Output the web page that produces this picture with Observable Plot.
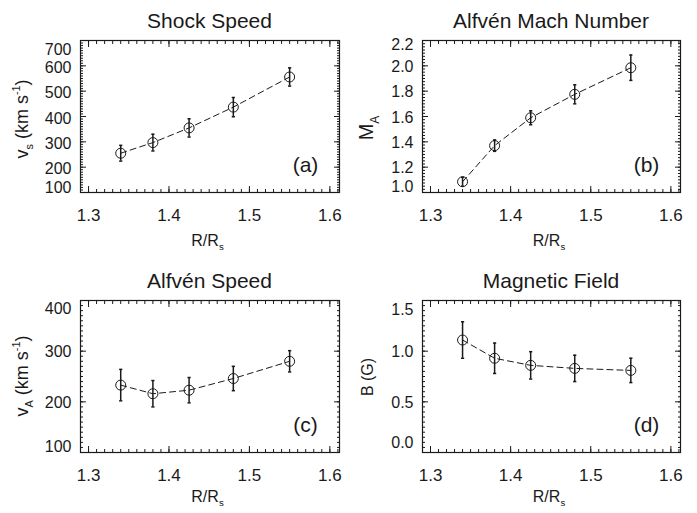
<!DOCTYPE html>
<html><head><meta charset="utf-8">
<script src="https://cdn.jsdelivr.net/npm/d3@7"></script>
<script src="https://cdn.jsdelivr.net/npm/@observablehq/plot@0.6"></script>
<style>
body{margin:0;background:#fff;}
#chart{position:relative;width:697px;height:513px;background:#fff;}
.panel{position:absolute;}
</style></head><body><div id="chart"></div>
<script>
// ---- data ----
const radius = [1.34, 1.38, 1.425, 1.48, 1.55];          // R/Rs
const shockSpeed = [255, 297, 355, 437, 556];            // km/s
const shockSpeedErr = [31, 33, 36, 38, 36];
const machNumber = [1.085, 1.37, 1.59, 1.775, 1.985];
const machNumberErr = [0.035, 0.045, 0.055, 0.075, 0.10];
const alfvenSpeed = [233, 216, 223, 246, 280];            // km/s
const alfvenSpeedErr = [31, 26, 25, 24, 21];
const magneticField = [1.11, 0.93, 0.86, 0.83, 0.81];     // G
const magneticFieldErr = [0.18, 0.15, 0.135, 0.13, 0.12];

const xTicks = [1.3, 1.4, 1.5, 1.6];
const yTicksA = [100, 200, 300, 400, 500, 600, 700];
const yTicksB = [1.0, 1.2, 1.4, 1.6, 1.8, 2.0, 2.2];
const yTicksC = [100, 200, 300, 400];
const yTicksD = [0.0, 0.5, 1.0, 1.5];

const titles = ["Shock Speed", "Alfvén Mach Number", "Alfvén Speed", "Magnetic Field"];
const letters = ["(a)", "(b)", "(c)", "(d)"];
const yLabels = [
  [{t:"v"},{t:"s",sub:true},{t:" (km s"},{t:"-1",sup:true},{t:")"}],
  [{t:"M"},{t:"A",sub:true}],
  [{t:"v"},{t:"A",sub:true},{t:" (km s"},{t:"-1",sup:true},{t:")"}],
  [{t:"B (G)"}]
];
const xLabel = [{t:"R/R"},{t:"s",sub:true}];

const FONT = '"Liberation Sans", Arial, Helvetica, sans-serif';
const INK = "#1a1a1a";

function richText(sel, parts, size) {
  let shift = 0;
  for (const p of parts) {
    const target = p.sub ? size * 0.28 : p.sup ? -size * 0.42 : 0;
    sel.append("tspan")
      .attr("dy", target - shift)
      .style("font-size", (p.sub || p.sup) ? (size * 0.6) + "px" : size + "px")
      .text(p.t);
    shift = target;
  }
}

const capSymbol = {draw(ctx) { ctx.moveTo(-1.6, 0); ctx.lineTo(1.6, 0); }};

function panel(cfg) {
  const {left, top, width, height, mL, mR, mT, mB, values, errors, yDomain, yTicks, yMinor, yDy, title, letter, yLabel, yLabelX, yLabelSize, yLabelDy, tickFmt} = cfg;
  const data = radius.map((r, i) => ({r, v: values[i], lo: values[i] - errors[i], hi: values[i] + errors[i]}));
  const xDomain = [1.29, 1.612];
  const xMinor = d3.range(129, 162).map(d => d / 100).filter(d => d >= xDomain[0] && d <= xDomain[1]);
  const fw = width - mL - mR, fh = height - mT - mB;
  const yt = {anchor: "left", tickSize: 0, tickPadding: 9, tickFormat: tickFmt, label: null, fill: INK, fontSize: 16};
  const plot = Plot.plot({
    width, height,
    marginLeft: mL, marginRight: mR, marginTop: mT, marginBottom: mB,
    style: {fontFamily: FONT, fontSize: "16px", color: INK, background: "transparent", overflow: "visible"},
    x: {domain: xDomain},
    y: {domain: yDomain},
    marks: [
      Plot.frame({stroke: INK, strokeWidth: 1.2}),
      // inward ticks on all four sides
      Plot.axisX(xTicks, {anchor: "bottom", tickSize: -6, fill: "none", stroke: INK}),
      Plot.axisX(xTicks, {anchor: "top", tickSize: -6, fill: "none", stroke: INK}),
      Plot.axisX(xMinor, {anchor: "bottom", tickSize: -3, fill: "none", stroke: INK}),
      Plot.axisX(xMinor, {anchor: "top", tickSize: -3, fill: "none", stroke: INK}),
      Plot.axisY(yTicks, {anchor: "left", tickSize: -6, fill: "none", stroke: INK}),
      Plot.axisY(yTicks, {anchor: "right", tickSize: -6, fill: "none", stroke: INK}),
      Plot.axisY(yMinor, {anchor: "left", tickSize: -3, fill: "none", stroke: INK}),
      Plot.axisY(yMinor, {anchor: "right", tickSize: -3, fill: "none", stroke: INK}),
      // tick labels
      Plot.axisX(xTicks, {anchor: "bottom", tickSize: 0, tickPadding: 16, tickFormat: d => d.toFixed(1), label: null, fill: INK, fontSize: 17}),
      Plot.axisY(yTicks.slice(1, -1), {...yt, dy: yDy[1]}),
      Plot.axisY(yTicks.slice(0, 1), {...yt, dy: yDy[2]}),
      Plot.axisY(yTicks.slice(-1), {...yt, dy: yDy[0]}),
      // data
      Plot.line(data, {x: "r", y: "v", stroke: INK, strokeWidth: 1, strokeDasharray: "6,4"}),
      Plot.ruleX(data, {x: "r", y1: "lo", y2: "hi", stroke: INK, strokeWidth: 1.5}),
      Plot.dot(data, {x: "r", y: "lo", symbol: capSymbol, stroke: INK, strokeWidth: 1.5}),
      Plot.dot(data, {x: "r", y: "hi", symbol: capSymbol, stroke: INK, strokeWidth: 1.5}),
      Plot.dot(data, {x: "r", y: "v", r: 5, stroke: INK, fill: "none", strokeWidth: 1}),
      Plot.text([letter], {text: d => d, frameAnchor: "bottom-right", dx: -34, dy: -27, textAnchor: "middle", lineAnchor: "middle", fontSize: 21, fill: INK})
    ]
  });
  const svg = d3.select(plot);
  svg.append("text")
    .attr("x", mL + fw / 2).attr("y", mT - 12)
    .attr("text-anchor", "middle").attr("fill", INK)
    .style("font-size", "21px").style("font-family", FONT)
    .text(title);
  const yl = svg.append("text")
    .attr("transform", `translate(${yLabelX},${mT + fh / 2 + yLabelDy}) rotate(-90)`)
    .attr("text-anchor", "middle").attr("fill", INK)
    .style("font-family", FONT);
  richText(yl, yLabel, yLabelSize);
  const xl = svg.append("text")
    .attr("x", mL + fw / 2 - 2).attr("y", mT + fh + cfg.xLabelOff)
    .attr("text-anchor", "middle").attr("fill", INK)
    .style("font-family", FONT);
  richText(xl, xLabel, 16);
  const holder = document.createElement("div");
  holder.className = "panel";
  holder.style.left = left + "px";
  holder.style.top = top + "px";
  holder.appendChild(plot);
  document.getElementById("chart").appendChild(holder);
}

panel({left: 0, top: 0, width: 348, height: 256, mL: 80, mR: 9, mT: 40, mB: 64,
  values: shockSpeed, errors: shockSpeedErr, yDomain: [100, 700], yTicks: yTicksA,
  yMinor: d3.range(100, 701, 10), yDy: [9, 2, -5], title: titles[0], letter: letters[0],
  yLabel: yLabels[0], yLabelX: 28, yLabelSize: 18, yLabelDy: 3, tickFmt: d => String(d), xLabelOff: 54});
panel({left: 348, top: 0, width: 349, height: 256, mL: 74, mR: 17, mT: 40, mB: 64,
  values: machNumber, errors: machNumberErr, yDomain: [1.0, 2.2], yTicks: yTicksB,
  yMinor: d3.range(0, 49).map(i => 1.0 + i * 0.025), yDy: [4, 1, -6], title: titles[1], letter: letters[1],
  yLabel: yLabels[1], yLabelX: 25, yLabelSize: 20, yLabelDy: 12, tickFmt: d => d.toFixed(1), xLabelOff: 54});
panel({left: 0, top: 256, width: 348, height: 257, mL: 80, mR: 9, mT: 44, mB: 61,
  values: alfvenSpeed, errors: alfvenSpeedErr, yDomain: [100, 400], yTicks: yTicksC,
  yMinor: d3.range(100, 401, 10), yDy: [8, 1, -6], title: titles[2], letter: letters[2],
  yLabel: yLabels[2], yLabelX: 28, yLabelSize: 18, yLabelDy: 0, tickFmt: d => String(d), xLabelOff: 50});
panel({left: 348, top: 256, width: 349, height: 257, mL: 74, mR: 17, mT: 44, mB: 61,
  values: magneticField, errors: magneticFieldErr, yDomain: [0, 1.5], yTicks: yTicksD,
  yMinor: d3.range(0, 31).map(i => i * 0.05), yDy: [9, 1, -10], title: titles[3], letter: letters[3],
  yLabel: yLabels[3], yLabelX: 25, yLabelSize: 16, yLabelDy: 1, tickFmt: d => d.toFixed(1), xLabelOff: 50});
</script>
</body></html>
